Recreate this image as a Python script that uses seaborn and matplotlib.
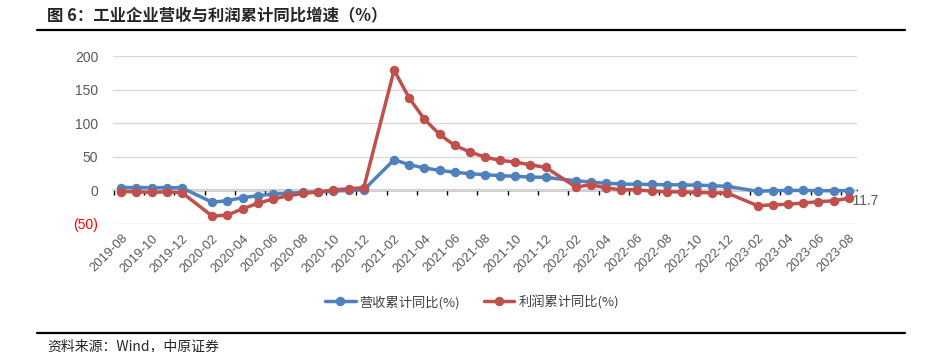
import pandas as pd
import seaborn as sns
import matplotlib.pyplot as plt

# monthly cumulative yoy data (no January releases)
months = ["2019-08", "2019-09", "2019-10", "2019-11", "2019-12",
          "2020-02", "2020-03", "2020-04", "2020-05", "2020-06", "2020-07",
          "2020-08", "2020-09", "2020-10", "2020-11", "2020-12",
          "2021-02", "2021-03", "2021-04", "2021-05", "2021-06", "2021-07",
          "2021-08", "2021-09", "2021-10", "2021-11", "2021-12",
          "2022-02", "2022-03", "2022-04", "2022-05", "2022-06", "2022-07",
          "2022-08", "2022-09", "2022-10", "2022-11", "2022-12",
          "2023-02", "2023-03", "2023-04", "2023-05", "2023-06", "2023-07",
          "2023-08"]
revenue = [4.3, 4.2, 4.0, 4.1, 3.8,
           -17.7, -15.1, -10.8, -7.9, -5.5, -4.3, -3.0, -2.2, -1.2, 0.1, 0.8,
           45.6, 38.3, 33.3, 29.9, 26.9, 24.9, 23.4, 21.9, 20.9, 19.9, 19.4,
           14.3, 12.4, 10.6, 9.5, 9.1, 8.8, 8.4, 8.2, 7.8, 7.0, 6.0,
           -1.3, -0.5, 0.0, -0.1, -0.4, -0.5, -0.2]
profit = [-1.7, -2.1, -2.9, -2.1, -3.3,
          -38.3, -36.7, -27.4, -19.3, -12.8, -8.1, -4.4, -2.4, 0.7, 2.4, 4.1,
          178.9, 137.3, 106.0, 83.4, 66.9, 57.3, 49.5, 44.7, 42.2, 38.0, 34.3,
          5.0, 8.5, 3.5, 1.0, 1.0, -1.1, -2.1, -2.3, -3.0, -3.6, -4.0,
          -22.9, -21.4, -20.6, -18.8, -16.8, -15.5, -11.7]
rev_name = "营收累计同比(%)"
pro_name = "利润累计同比(%)"

tick_labels = ["2019-08", "2019-10", "2019-12", "2020-02", "2020-04", "2020-06",
               "2020-08", "2020-10", "2020-12", "2021-02", "2021-04", "2021-06",
               "2021-08", "2021-10", "2021-12", "2022-02", "2022-04", "2022-06",
               "2022-08", "2022-10", "2022-12", "2023-02", "2023-04", "2023-06",
               "2023-08"]

start = pd.Period("2019-08", "M")
def month_idx(m):
    return (pd.Period(m, "M") - start).n

df = pd.DataFrame({"month": months * 2,
                   "value": revenue + profit,
                   "series": [rev_name] * len(months) + [pro_name] * len(months)})
df["idx"] = df["month"].apply(month_idx)

sns.set_style("white")
plt.rcParams["font.family"] = ["Liberation Sans", "Noto Sans CJK SC", "DejaVu Sans"]
cjk = ["Noto Sans CJK SC", "DejaVu Sans"]

fig = plt.figure(figsize=(9.29, 3.52), dpi=100)
ax = fig.add_axes([113 / 929, 1 - 224 / 352, 744 / 929, 168 / 352])

pal = {rev_name: "#4F81BD", pro_name: "#C0504D"}
sns.lineplot(data=df, x="idx", y="value", hue="series", palette=pal,
             hue_order=[rev_name, pro_name], marker="o", markersize=6.8,
             markeredgewidth=0, linewidth=2.5, ax=ax, legend=False, zorder=3)

ax.set_xlim(-0.55, 48.55)
ax.set_ylim(-50, 200)
ax.set_yticks([-50, 0, 50, 100, 150, 200])
ax.set_yticklabels(["(50)", "0", "50", "100", "150", "200"])
for lab in ax.get_yticklabels():
    lab.set_color("#FF0000" if lab.get_text() == "(50)" else "#595959")
ax.tick_params(axis="y", length=0, labelsize=10, pad=10.5)
ax.grid(axis="y", color="#D9D9D9", linewidth=1)
ax.set_axisbelow(True)

ax.set_xticks([month_idx(t) for t in tick_labels])
ax.set_xticklabels(tick_labels, rotation=45, ha="right", rotation_mode="anchor")
ax.tick_params(axis="x", length=0, labelsize=9.3, labelcolor="#595959", pad=6)
ax.set_xlabel("")
ax.set_ylabel("")
for s in ax.spines.values():
    s.set_visible(False)

# zero axis line with tick marks between months
zero_ax = ax.secondary_xaxis(0.2)
zero_ax.set_xticks([month_idx(t) - 0.5 for t in tick_labels])
zero_ax.tick_params(axis="x", length=3.5, width=1, color="black", labelbottom=False)
zero_ax.spines["bottom"].set_color("black")
zero_ax.spines["bottom"].set_linewidth(1)

# label on last profit point
ax.annotate(f"{profit[-1]}", xy=(month_idx(months[-1]), profit[-1]),
            xytext=(0, -2), textcoords="offset points", ha="left", va="center",
            fontsize=10, color="#595959", zorder=1)

handles = [plt.Line2D([], [], color=pal[n], marker="o", markersize=6.8,
                      markeredgewidth=0, linewidth=2.5) for n in [rev_name, pro_name]]
fig.legend(handles, [rev_name, pro_name], loc="center",
           bbox_to_anchor=(472 / 929, 1 - 302 / 352), ncol=2, frameon=False,
           prop={"family": cjk, "size": 9.5}, handlelength=2.3,
           columnspacing=1.8, handletextpad=0.3, labelcolor="#404040")

fig.text(47 / 929, 1 - 15 / 352, "图 6：工业企业营收与利润累计同比增速（%）",
         family=cjk, fontsize=11.8, fontweight="bold", va="center", ha="left")
fig.add_artist(plt.Line2D([37 / 929, 905 / 929], [1 - 30 / 352] * 2,
                          color="black", linewidth=1.6))
fig.add_artist(plt.Line2D([37 / 929, 905 / 929], [1 - 333 / 352] * 2,
                          color="black", linewidth=1.6))
fig.text(47 / 929, 1 - 346 / 352, "资料来源：Wind，中原证券",
         family=cjk, fontsize=10, va="center", ha="left")

plt.savefig("out.png", dpi=100)
